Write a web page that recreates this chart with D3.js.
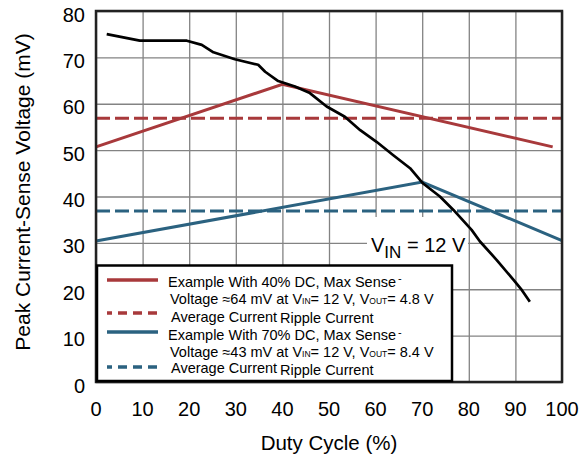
<!DOCTYPE html>
<html>
<head>
<meta charset="utf-8">
<script src="https://cdn.jsdelivr.net/npm/d3@7"></script>
<style>
  body { margin: 0; background: #fff; }
  text { font-family: "Liberation Sans", Arial, sans-serif; fill: #000; }
</style>
</head>
<body>
<svg id="chart" width="583" height="455"></svg>
<script>
// tick labels
var xTicks = [0, 10, 20, 30, 40, 50, 60, 70, 80, 90, 100];
var yTicks = [0, 10, 20, 30, 40, 50, 60, 70, 80];

// peak current-sense voltage vs duty cycle (black curve)
var senseX = [2.3, 9.4, 19.5, 22.7, 25.2, 29.8, 34.8, 36.3, 39.1, 42.7, 45.9, 49.5, 53.4, 56.7, 60.2, 63.8, 67.4, 70.2, 73.8, 76.7, 80.6, 82.4, 86.0, 89.6, 91.4, 93.1];
var senseY = [75.0, 73.6, 73.6, 72.7, 71.1, 69.6, 68.4, 66.9, 64.9, 63.7, 62.3, 59.4, 57.2, 54.3, 51.8, 48.9, 46.1, 42.8, 40.0, 37.1, 32.8, 30.3, 26.3, 22.0, 19.8, 17.3];

// 40% DC example
var rippleX40 = [0, 40, 98];
var rippleY40 = [50.7, 64.2, 50.7];
var average40 = 56.9;

// 70% DC example
var rippleX70 = [0, 70, 100];
var rippleY70 = [30.4, 43.1, 30.5];
var average70 = 36.9;

var red = "#a8393b";
var blue = "#2b6280";

// plot box (window.top is reserved, so no bare "top")
var pLeft = 96, pRight = 562, pTop = 11, pBottom = 382;

var chart = d3.select("#chart");

var x = d3.scaleLinear().domain([0, 100]).range([pLeft, pRight]);
var y = d3.scaleLinear().domain([0, 80]).range([pBottom, pTop]);

// grid
chart.append("g")
  .attr("transform", "translate(0," + pBottom + ")")
  .call(d3.axisBottom(x).tickValues(xTicks).tickSize(-(pBottom - pTop)).tickFormat(""))
  .call(function (g) { g.select(".domain").remove(); })
  .selectAll("line").attr("stroke", "#838383").attr("stroke-width", 1.3);

chart.append("g")
  .attr("transform", "translate(" + pLeft + ",0)")
  .call(d3.axisLeft(y).tickValues(yTicks).tickSize(-(pRight - pLeft)).tickFormat(""))
  .call(function (g) { g.select(".domain").remove(); })
  .selectAll("line").attr("stroke", "#838383").attr("stroke-width", 1.3);

// tick labels
chart.append("g")
  .selectAll("text")
  .data(xTicks)
  .enter()
  .append("text")
  .attr("x", function (d) { return x(d); })
  .attr("y", pBottom + 33.5)
  .attr("text-anchor", "middle")
  .style("font-size", "20px")
  .text(function (d) { return d; });

chart.append("g")
  .selectAll("text")
  .data(yTicks)
  .enter()
  .append("text")
  .attr("x", pLeft - 11)
  .attr("y", function (d) { return y(d) + 10.6; })
  .attr("text-anchor", "end")
  .style("font-size", "20px")
  .text(function (d) { return d; });

// axis titles
chart.append("text")
  .attr("x", (pLeft + pRight) / 2)
  .attr("y", 450)
  .attr("text-anchor", "middle")
  .style("font-size", "20.5px")
  .text("Duty Cycle (%)");

chart.append("text")
  .attr("transform", "translate(30,192) rotate(-90)")
  .attr("text-anchor", "middle")
  .style("font-size", "21px")
  .text("Peak Current-Sense Voltage (mV)");

// VIN label, white backing hides the grid only
chart.append("rect")
  .attr("x", 367).attr("y", 217).attr("width", 101).attr("height", 48)
  .attr("fill", "#fff");

var vin = chart.append("text")
  .attr("x", 371)
  .attr("y", 251.7)
  .style("font-size", "20px");
vin.append("tspan").text("V");
vin.append("tspan").attr("dy", 6.5).style("font-size", "17px").text("IN");
vin.append("tspan").attr("dy", -6.5).text(" = 12 V");

var line = d3.line()
  .x(function (d) { return x(d[0]); })
  .y(function (d) { return y(d[1]); });

function avgLine(v, color) {
  chart.append("line")
    .attr("x1", x(0)).attr("x2", x(100))
    .attr("y1", y(v)).attr("y2", y(v))
    .attr("stroke", color)
    .attr("stroke-width", 3)
    .attr("stroke-dasharray", "14,5");
}

avgLine(average40, red);
chart.append("path")
  .attr("d", line(d3.zip(rippleX40, rippleY40)))
  .attr("fill", "none").attr("stroke", red).attr("stroke-width", 3);

avgLine(average70, blue);
chart.append("path")
  .attr("d", line(d3.zip(rippleX70, rippleY70)))
  .attr("fill", "none").attr("stroke", blue).attr("stroke-width", 3);

chart.append("path")
  .attr("d", line(d3.zip(senseX, senseY)))
  .attr("fill", "none").attr("stroke", "#000").attr("stroke-width", 2.7)
  .attr("stroke-linejoin", "round");

// frame
chart.append("rect")
  .attr("x", pLeft).attr("y", pTop)
  .attr("width", pRight - pLeft).attr("height", pBottom - pTop)
  .attr("fill", "none").attr("stroke", "#222").attr("stroke-width", 2.5);

// legend
var legendColors = [red, red, blue, blue];
var legendDashed = [false, true, false, true];
var legendLineY = [280, 313, 332, 367];
var legendLine1 = ["Example With 40% DC, Max Sense", "Average Current", "Example With 70% DC, Max Sense", "Average Current"];
var legendVolt = ["64", "43"];
var legendVout = ["4.8", "8.4"];

chart.append("rect")
  .attr("x", 97).attr("y", 265.5).attr("width", 355).attr("height", 115.5)
  .attr("fill", "#fff").attr("stroke", "#000").attr("stroke-width", 2.5);

legendColors.forEach(function (c, i) {
  chart.append("line")
    .attr("x1", 107).attr("x2", 158)
    .attr("y1", legendLineY[i]).attr("y2", legendLineY[i])
    .attr("stroke", c).attr("stroke-width", 3.5)
    .attr("stroke-dasharray", legendDashed[i] ? "9,6" : null)
    .attr("stroke-dashoffset", legendDashed[i] ? 4 : null);
});

[0, 2].forEach(function (i, k) {
  var base = k === 0 ? 286.7 : 340;
  var t1 = chart.append("text").attr("x", 168).attr("y", base).style("font-size", "14.5px");
  t1.append("tspan").text(legendLine1[i]);
  t1.append("tspan").attr("dx", 2).attr("dy", -4.5).style("font-size", "11px").text("-");

  var t2 = chart.append("text").attr("x", 170).attr("y", base + 16.8).style("font-size", "14.5px");
  t2.append("tspan").text("Voltage \u2248" + legendVolt[k] + " mV at V");
  t2.append("tspan").attr("dy", 0.5).style("font-size", "8.5px").text("IN");
  t2.append("tspan").attr("dy", -0.5).text("= 12 V, V");
  t2.append("tspan").attr("dy", 0.5).style("font-size", "8.5px").text("OUT");
  t2.append("tspan").attr("dy", -0.5).text("= " + legendVout[k] + " V");
});

[1, 3].forEach(function (i) {
  var base = i === 1 ? 321.7 : 373.3;
  chart.append("text").attr("x", 171).attr("y", base).style("font-size", "14.5px").text(legendLine1[i]);
  chart.append("text").attr("x", 280).attr("y", base + 1.6).style("font-size", "14.5px").text("Ripple Current");
});
</script>
</body>
</html>
